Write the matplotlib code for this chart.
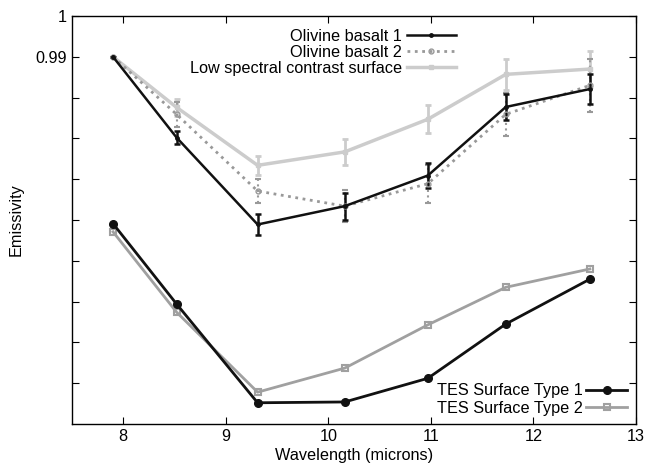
import matplotlib
matplotlib.use("Agg")
from matplotlib import pyplot as plt
from matplotlib.lines import Line2D

plt.rcParams['font.family'] = ['Liberation Sans', 'DejaVu Sans']
plt.rcParams['font.size'] = 11.7

# wavelengths (microns)
wl = [7.9, 8.52, 9.31, 10.16, 10.97, 11.73, 12.55]

# olivine basalt / low contrast spectra with error bars
ob1 = [0.990, 0.9702, 0.9489, 0.9534, 0.9609, 0.9777, 0.9821]
ob1_err = [0.0, 0.0016, 0.0025, 0.0033, 0.0030, 0.0033, 0.0037]
ob2 = [0.990, 0.9759, 0.9571, 0.9534, 0.9589, 0.9759, 0.9830]
ob2_err = [0.0, 0.0030, 0.0030, 0.0040, 0.0047, 0.0053, 0.0065]
low = [0.990, 0.9776, 0.9634, 0.9667, 0.9747, 0.9857, 0.9870]
low_err = [0.0, 0.0020, 0.0023, 0.0031, 0.0034, 0.0038, 0.0045]

# TES surface types
tes1 = [0.9491, 0.9294, 0.9052, 0.9054, 0.9112, 0.9245, 0.9355]
tes2 = [0.9471, 0.9274, 0.9078, 0.9137, 0.9243, 0.9335, 0.9380]

yticks = [1.0, 0.99, 0.98, 0.97, 0.96, 0.95, 0.94, 0.93, 0.92, 0.91]
ytick_labels = ['1', '0.99', '', '', '', '', '', '', '', '']

fig = plt.figure(figsize=(6.46, 4.67), dpi=100)
ax = fig.add_axes([0.1115, 0.0921, 0.873, 0.8736])

# low spectral contrast surface
ax.errorbar(wl, low, yerr=low_err, color='#cccccc', lw=2.5, marker='s', ms=3,
            capsize=2.5, capthick=2, elinewidth=2)

# olivine basalt 2 (dotted)
h2 = ax.errorbar(wl, ob2, yerr=ob2_err, color='#999999', lw=2, ls=':', marker='o', ms=3.5,
                 mfc='none', capsize=2.5, capthick=1.5, elinewidth=1.5)
h2[2][0].set_linestyle(':')

# olivine basalt 1
ax.errorbar(wl, ob1, yerr=ob1_err, color='#111111', lw=1.8, marker='o', ms=2.5,
            capsize=2.5, capthick=1.8, elinewidth=1.8)

# TES surface types
t2, = ax.plot(wl, tes2, color='#a0a0a0', lw=2, marker='s', ms=5, mfc='none', mew=1.5)
t1, = ax.plot(wl, tes1, color='#111111', lw=2, marker='o', ms=5.5)

ax.set_xlim(7.5, 13)
ax.set_ylim(0.90, 1.0)
ax.set_xticks([8, 9, 10, 11, 12, 13])
ax.set_yticks(yticks)
ax.set_yticklabels(ytick_labels)
ax.tick_params(direction='in', top=True, right=True, length=5, width=0.8, labelsize=11.7)
for s in ax.spines.values():
    s.set_linewidth(1)

ax.set_xlabel('Wavelength (microns)', fontsize=11.7, labelpad=3)
ax.set_ylabel('Emissivity', fontsize=11.7, labelpad=9)

# legend handles: line + marker only
l1 = Line2D([], [], color='#111111', lw=1.8, marker='o', ms=2.5)
l2 = Line2D([], [], color='#999999', lw=2, ls=':', marker='o', ms=3.5, mfc='none')
l3 = Line2D([], [], color='#cccccc', lw=2.5, marker='s', ms=3)

leg1 = ax.legend([l1, l2, l3], ['Olivine basalt 1', 'Olivine basalt 2', 'Low spectral contrast surface'],
                 loc='upper right', bbox_to_anchor=(0.68, 0.968), frameon=False, markerfirst=False,
                 handlelength=3.0, handletextpad=0.3, labelspacing=0.05, borderaxespad=0, borderpad=0,
                 fontsize=11.7)
ax.add_artist(leg1)
ax.legend([t1, t2], ['TES Surface Type 1', 'TES Surface Type 2'],
          loc='lower right', bbox_to_anchor=(0.984, 0.02), frameon=False, markerfirst=False,
          handlelength=2.5, handletextpad=0.2, labelspacing=0.15, borderaxespad=0, borderpad=0,
          fontsize=11.7)

plt.savefig('out.png', dpi=100)
